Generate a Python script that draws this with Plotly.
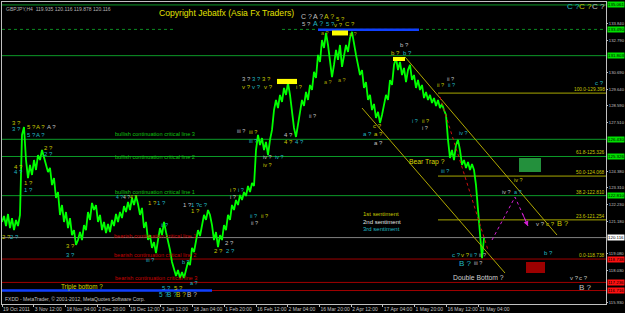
import numpy as np
import plotly.graph_objects as go

# ---------------- data ----------------
# GBPJPY H4 close path, sampled every ~4 bars (sample index on x)
prices = [121.12,121.50,120.86,121.63,120.73,121.37,120.60,121.25,120.86,121.57,
          126.71,127.22,125.10,123.94,124.78,124.14,125.10,124.46,125.42,125.10,
          125.74,125.23,124.78,124.33,124.59,123.49,123.94,122.66,123.04,121.57,
          122.21,121.12,121.76,120.73,121.37,120.28,120.60,119.64,119.96,120.47,
          119.96,120.92,120.60,121.76,121.25,122.34,121.89,122.21,121.12,121.57,
          120.60,121.12,120.41,120.99,120.47,121.25,120.86,121.63,121.12,121.76,
          121.37,122.14,121.76,122.40,121.89,122.66,122.21,122.79,122.27,121.57,
          122.02,120.73,121.12,119.96,120.28,119.45,119.83,119.12,119.96,120.73,
          120.28,121.12,120.47,119.96,119.32,118.55,118.03,117.65,118.03,117.52,
          117.90,117.52,118.03,118.55,118.35,119.45,119.19,119.96,120.60,120.22,
          120.92,121.57,121.25,121.89,121.57,120.92,119.96,120.47,119.51,120.28,
          119.96,120.92,120.60,121.57,121.25,122.21,121.89,122.53,122.21,122.85,
          122.53,123.04,122.79,123.43,123.04,123.62,123.43,125.74,126.71,126.06,
          126.51,125.74,126.26,125.42,126.39,127.03,128.31,128.96,128.44,129.28,
          128.83,129.73,129.28,130.05,129.28,128.31,127.16,126.58,127.35,128.31,
          128.96,128.57,129.47,128.96,129.92,129.60,130.76,130.37,131.85,131.40,
          132.81,132.30,133.26,132.49,131.53,130.43,131.21,132.17,131.53,132.49,
          131.08,131.85,132.49,132.04,132.94,133.33,132.49,131.85,131.21,130.56,
          130.88,129.73,130.11,128.96,129.28,128.31,128.70,127.80,128.19,127.48,
          127.99,128.64,129.28,128.96,130.24,129.92,131.21,131.66,130.88,131.40,
          130.56,131.01,130.11,130.88,131.21,130.24,130.56,129.73,130.24,129.60,
          129.92,129.08,129.47,128.96,129.28,128.76,129.08,128.57,128.96,128.44,
          128.70,128.31,127.99,126.39,125.23,125.74,125.10,126.06,126.39,125.74,
          124.78,125.10,124.59,124.97,124.46,124.84,124.46,123.49,121.89,120.60,
          118.80,120.09]

date_pos = [0, 15.9, 31.7, 47.6, 63.5, 79.4, 95.2, 111.1, 127.0, 142.8, 158.7,
            174.6, 190.4, 206.3, 222.2, 238.1]
date_labels = ["19 Oct 2011", "3 Nov 12:00", "18 Nov 04:00", "2 Dec 20:00",
               "19 Dec 12:00", "3 Jan 12:00", "18 Jan 04:00", "1 Feb 20:00",
               "16 Feb 12:00", "2 Mar 04:00", "16 Mar 20:00", "2 Apr 12:00",
               "17 Apr 04:00", "1 May 20:00", "16 May 12:00", "31 May 04:00"]

# visible price-scale labels (the others are hidden under the level boxes)
price_ticks = [115.930, 118.030, 119.080, 121.180, 122.230, 123.310, 124.380,
               127.510, 128.590, 129.640, 130.690, 132.790, 133.840]

green_levels = [135.061, 131.803, 126.430, 125.326, 122.810]
red_levels = [118.738, 117.236, 116.716]
bid_price = 120.116
fib_levels = [("100.0", 129.398), ("61.8", 125.326), ("50.0", 124.068),
              ("38.2", 122.810), ("23.6", 121.254), ("0.0", 118.738)]

Y = "#c8c800"   # 1st sentiment
W = "#c0c0c0"   # 2nd sentiment
C = "#20b8c0"   # 3rd sentiment

wave_labels = [
    # text, x(sample), price, colour, size
    ("C ?", 152, 134.29, W, 7), ("A ?", 158, 134.29, W, 7), ("A ?", 163.5, 134.29, Y, 7),
    ("5 ?", 169, 134.16, Y, 6),
    ("5 ?", 152, 133.84, W, 6), ("A ?", 158, 133.84, C, 7), ("5 ?", 164, 133.84, C, 6),
    ("v ?", 168, 133.80, Y, 6), ("C ?", 174, 133.84, Y, 6),
    ("a ?", 161.5, 133.26, "#a0a000", 5.5), ("a ?", 175.5, 133.20, "#a0a000", 5.5),
    ("3 ?", 122, 130.31, W, 6), ("3 ?", 127, 130.31, C, 6), ("3 ?", 132, 130.31, Y, 6),
    ("v ?", 122, 129.79, Y, 6), ("v ?", 127, 129.79, C, 6), ("v ?", 133, 129.79, Y, 6),
    ("i ?", 148.5, 129.79, Y, 5.5),
    ("a ?", 163, 130.11, "#a0a000", 5.5), ("a ?", 170, 130.24, "#a0a000", 5.5),
    ("b ?", 201, 132.49, W, 6), ("b ?", 196.5, 131.98, Y, 6), ("b ?", 202.5, 131.98, C, 6),
    ("C ?", 285.5, 134.93, C, 8), ("C ?", 291.5, 134.93, Y, 8), ("C ?", 298, 134.93, W, 8),
    ("ii ?", 224, 130.31, W, 5.5), ("ii ?", 219, 129.92, Y, 5.5), ("ii ?", 224.5, 129.92, C, 5.5),
    ("c ?", 298.5, 130.05, C, 6),
    ("3 ?", 7, 127.48, Y, 6), ("3 ?", 7, 127.09, C, 6),
    ("5 ?", 14.5, 127.22, Y, 6), ("A ?", 19, 127.22, Y, 6), ("A ?", 24.5, 127.22, W, 6),
    ("5 ?", 14.5, 126.71, C, 6), ("A ?", 19, 126.71, C, 6),
    ("2 ?", 23, 125.87, Y, 6), ("2 ?", 23, 125.49, C, 6),
    ("4 ?", 8, 124.65, Y, 6), ("4 ?", 8, 124.33, C, 6),
    ("1 ?", 13, 123.62, Y, 6), ("1 ?", 13, 123.17, C, 6),
    ("4 ?", 58.5, 122.72, C, 5), ("4 ?", 62.2, 122.72, W, 5), ("4 ?", 65.9, 122.72, Y, 5),
    ("1 ?", 75, 122.34, Y, 6), ("1 ?", 79.5, 122.34, C, 6),
    ("1 ?", 92.5, 122.21, W, 6), ("1 ?", 96.5, 122.21, C, 6), ("c ?", 100.5, 122.21, C, 6),
    ("1 ?", 96.5, 121.82, Y, 6),
    ("2 ?", 2, 120.15, Y, 6), ("2 ?", 6, 120.15, C, 6),
    ("3 ?", 34, 119.57, Y, 6), ("3 ?", 34, 118.99, C, 6),
    ("ii ?", 81, 120.92, C, 5.5), ("iii ?", 74, 118.67, C, 5.5), ("b ?", 92, 118.55, C, 5.5),
    ("a ?", 96, 117.18, C, 5.5),
    ("5 ?", 82, 116.88, C, 6), ("5 ?", 88, 116.88, Y, 6),
    ("5 ?", 80.5, 116.49, C, 6.5), ("B ?", 85, 116.49, C, 6.5), ("B ?", 89.5, 116.49, Y, 6.5),
    ("B ?", 95, 116.49, W, 6.5),
    ("ii ?", 155, 127.93, W, 5.5),
    ("iii ?", 119.5, 126.96, W, 5.5), ("iii ?", 125.5, 126.90, Y, 5.5), ("iii ?", 125.5, 126.32, C, 5.5),
    ("4 ?", 143, 126.71, W, 6), ("4 ?", 143, 126.26, Y, 6), ("4 ?", 148.5, 126.26, C, 6),
    ("c ?", 187.5, 127.28, Y, 6), ("a ?", 182.5, 126.77, C, 6), ("a ?", 188, 126.77, Y, 6),
    ("a ?", 188, 126.19, W, 6),
    ("iv ?", 132.5, 125.29, W, 5.5), ("iv ?", 138.5, 125.29, C, 5.5), ("iv ?", 132.5, 124.78, Y, 5.5),
    ("i ?", 115.5, 123.17, Y, 5.5), ("i ?", 119.5, 123.17, C, 5.5), ("i ?", 115.5, 122.72, W, 5.5),
    ("i ?", 206.5, 127.61, C, 5.5), ("ii ?", 211.5, 127.61, Y, 5.5), ("i ?", 211.5, 127.16, W, 5.5),
    ("iv ?", 230.5, 126.84, C, 5.5), ("iii ?", 221.5, 124.39, C, 5.5),
    ("iv ?", 258, 123.82, Y, 5.5), ("iv ?", 252, 123.04, W, 5.5), ("a ?", 258, 123.04, C, 5.5),
    ("ii ?", 125.5, 121.50, C, 5.5), ("ii ?", 131, 121.50, Y, 5.5), ("ii ?", 126, 121.05, W, 5.5),
    ("2 ?", 113.5, 119.77, W, 6), ("2 ?", 108, 119.25, Y, 6), ("2 ?", 114, 119.25, C, 6),
    ("v ?", 269, 120.99, W, 6), ("c ?", 274, 120.99, Y, 6), ("B ?", 280, 120.99, Y, 7.5),
    ("c ?", 227, 118.99, C, 6), ("v ?", 231.5, 118.99, Y, 6), ("ii ?", 235.5, 118.99, C, 5.5),
    ("ii ?", 240, 118.99, W, 5.5),
    ("b ?", 273, 119.12, C, 6),
    ("B ?", 231.5, 118.48, C, 8), ("iii ?", 238, 118.48, W, 5.5),
    ("v ?", 286, 117.52, W, 6), ("c ?", 290.5, 117.52, W, 6),
    ("B ?", 291.5, 116.94, W, 8),
]

level_texts = [
    ("bullish continuation critical line 3", 76.5, 126.77, "#10c010"),
    ("bullish continuation critical line 2", 76.5, 125.29, "#10c010"),
    ("bullish continuation critical line 1", 76.5, 123.04, "#10c010"),
    ("bearish continuation critical line 1", 76.5, 120.22, "#c80000"),
    ("bearish continuation critical line 2", 76.5, 118.99, "#c80000"),
    ("bearish continuation critical line 3", 77, 117.52, "#c80000"),
]

comments = [
    ("Triple bottom ?", 40, 116.94, "#d8d800", 6.3),
    ("Bear Trap ?", 212.5, 124.97, "#d8d800", 6.8),
    ("Double Bottom ?", 238, 117.58, "#d0d0d0", 6.8),
]

sentiments = [("1st sentiment", 121.63, Y), ("2nd sentiment", 121.12, "#e0e0e0"),
              ("3rd sentiment", 120.67, C)]

# channel / projection lines: (x0, p0, x1, p1)
channel_upper = [201.5, 131.72, 277.5, 120.28]
channel_lower = [180, 128.44, 251.5, 117.84]
red_trend = [219, 129.15, 243, 119.32]
proj_x = [245, 256.5, 263]
proj_p = [119.96, 122.72, 120.86]

yellow_boxes = [(137.5, 129.98, 147.5, 130.31), (165, 133.10, 173, 133.42),
                (195.5, 131.46, 201.5, 131.72)]
green_zone = (258.5, 124.33, 269.5, 125.23)
red_zone = (262, 117.84, 271.5, 118.55)

top_dotted = 133.49
blue_top = (158, 208.5, 133.46)
blue_bottom = (0, 105, 116.71)

# ---------------- figure ----------------
fig = go.Figure()
XMAX = 302

shapes = []
def hline(p, color, width=1, dash="solid", x0=0, x1=XMAX):
    shapes.append(dict(type="line", xref="x", yref="y", x0=x0, x1=x1, y0=p, y1=p,
                       line=dict(color=color, width=width, dash=dash), layer="below"))

hline(green_levels[0], "#0c9a28")
hline(top_dotted, "#0c8a22", 1, "dot", 0, 86.5)
hline(top_dotted, "#0c8a22", 1, "dot", 140, XMAX)
for p in green_levels[1:]:
    hline(p, "#0c9a28")
for name, p in fib_levels:
    if name in ("100.0", "50.0", "23.6"):
        hline(p, "#a8a800", 1, "solid", 218, XMAX)
hline(bid_price, "#808080")
for p in red_levels:
    hline(p, "#a00000")
hline(blue_top[2], "#1040ff", 2.5, "solid", blue_top[0], blue_top[1])
hline(blue_bottom[2], "#1040ff", 2.5, "solid", blue_bottom[0], blue_bottom[1])

for seg, col, dash in [(channel_upper, "#b0a800", "solid"), (channel_lower, "#b0a800", "solid"),
                       (red_trend, "#d01010", "dot")]:
    shapes.append(dict(type="line", xref="x", yref="y", x0=seg[0], y0=seg[1], x1=seg[2], y1=seg[3],
                       line=dict(color=col, width=1, dash=dash)))
for b in yellow_boxes:
    shapes.append(dict(type="rect", xref="x", yref="y", x0=b[0], y0=b[1], x1=b[2], y1=b[3],
                       fillcolor="#ffff00", line=dict(width=0)))
shapes.append(dict(type="rect", xref="x", yref="y", x0=green_zone[0], y0=green_zone[1],
                   x1=green_zone[2], y1=green_zone[3], fillcolor="#23903c", line=dict(width=0)))
shapes.append(dict(type="rect", xref="x", yref="y", x0=red_zone[0], y0=red_zone[1],
                   x1=red_zone[2], y1=red_zone[3], fillcolor="#9c0000", line=dict(width=0)))

fig.add_trace(go.Scatter(x=np.arange(len(prices)), y=prices, mode="lines",
                         line=dict(color="#00ff00", width=1.8), hoverinfo="skip"))
fig.add_trace(go.Scatter(x=proj_x, y=proj_p, mode="lines",
                         line=dict(color="#d020d0", width=1, dash="dot"), hoverinfo="skip"))

ann = []
ann.append(dict(text="GBPJPY,H4  119.935 120.116 119.878 120.116", xref="paper", yref="paper",
                x=0.003, y=0.995, xanchor="left", yanchor="top", showarrow=False,
                font=dict(size=5, color="#b0b0b0")))
ann.append(dict(text="Copyright Jebatfx (Asia Fx Traders)", x=112, y=134.55, xref="x", yref="y",
                showarrow=False, font=dict(size=8.6, color="#e0e000")))
ann.append(dict(text="FXDD - MetaTrader, \u00a9 2001-2012, MetaQuotes Software Corp.", xref="paper",
                yref="paper", x=0.002, y=0.0, xanchor="left", yanchor="bottom", showarrow=False,
                font=dict(size=5, color="#c0c0c0")))
for t, x, p, col, s in wave_labels:
    ann.append(dict(text=t, x=x, y=p, xref="x", yref="y", showarrow=False,
                    font=dict(size=s, color=col), borderpad=0))
for t, x, p, col in level_texts:
    ann.append(dict(text=t, x=x, y=p, xref="x", yref="y", showarrow=False,
                    font=dict(size=5.6, color=col), borderpad=0))
for t, x, p, col, s in comments:
    ann.append(dict(text=t, x=x, y=p, xref="x", yref="y", showarrow=False,
                    font=dict(size=s, color=col), borderpad=0))
for t, p, col in sentiments:
    ann.append(dict(text=t, x=180, y=p, xref="x", yref="y", xanchor="left", showarrow=False,
                    font=dict(size=6, color=col), borderpad=0))
for name, p in fib_levels:
    ann.append(dict(text=f"{name}-{p:.3f}", x=XMAX, y=p, xref="x", yref="y", xanchor="right",
                    yanchor="bottom", showarrow=False, font=dict(size=4.8, color="#c8c800"),
                    borderpad=0))
ann.append(dict(x=proj_x[2], y=proj_p[2], ax=proj_x[1] + 3.5, ay=proj_p[1] - 1.0, xref="x", yref="y",
                axref="x", ayref="y", showarrow=True, arrowhead=2, arrowsize=1, arrowwidth=1,
                arrowcolor="#d020d0", text=""))
# right-axis price boxes
boxes = [(p, "#00e000") for p in green_levels] + [(top_dotted, "#00e000"), (bid_price, "#ffffff")] + \
        [(p, "#ff1010") for p in red_levels]
for p, bg in boxes:
    ann.append(dict(text=f"{p:.3f}", xref="paper", yref="y", x=1.0, y=p, xanchor="left",
                    xshift=1, showarrow=False, bgcolor=bg, borderpad=0,
                    font=dict(size=4.4, color="#000000")))

fig.update_layout(
    width=625, height=313, margin=dict(l=2, r=19, t=2, b=9),
    paper_bgcolor="#000000", plot_bgcolor="#000000", showlegend=False,
    font=dict(family="Liberation Sans, Arial, sans-serif"),
    shapes=shapes, annotations=ann,
    xaxis=dict(range=[0, XMAX], showgrid=False, zeroline=False, tickvals=date_pos,
               ticktext=date_labels, ticks="outside", ticklen=2, tickcolor="#c0c0c0",
               tickangle=0, tickfont=dict(size=5, color="#c0c0c0"),
               ticklabelposition="outside right",
               showline=True, mirror=True, linecolor="#c0c0c0", linewidth=1, automargin=False),
    yaxis=dict(range=[115.85, 135.25], side="right", showgrid=False, zeroline=False,
               tickvals=price_ticks, ticktext=[f"{v:.3f}" for v in price_ticks],
               ticks="outside", ticklen=1, tickcolor="#c0c0c0",
               tickfont=dict(size=4.2, color="#c0c0c0"), showline=True, mirror=True,
               linecolor="#c0c0c0", linewidth=1, automargin=False),
)

fig.write_html("out.html")
